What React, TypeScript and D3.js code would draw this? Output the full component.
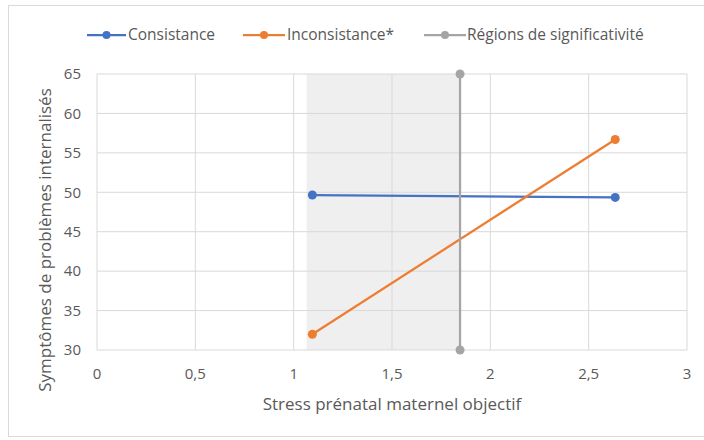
import React from "react";
import * as d3 from "d3";

const xTicks = [0, 0.5, 1, 1.5, 2, 2.5, 3];
const yTicks = [30, 35, 40, 45, 50, 55, 60, 65];
const consistanceX = [1.095, 2.635];
const consistanceY = [49.65, 49.35];
const inconsistanceX = [1.095, 2.635];
const inconsistanceY = [32.0, 56.7];
const regionX = [1.846, 1.846];
const regionY = [65, 30];
const shadeRange = [1.066, 1.846];

const seriesNames = ["Consistance", "Inconsistance*", "Régions de significativité"];
const seriesColors = ["#4472c4", "#ed7d31", "#a5a5a5"];

export default function App() {
  const W = 704, H = 440;
  const x = d3.scaleLinear().domain([0, 3]).range([97, 687]);
  const y = d3.scaleLinear().domain([30, 65]).range([350, 74]);
  const line = d3.line<[number, number]>().x(d => x(d[0])).y(d => y(d[1]));
  const font = "'Open Sans', sans-serif";
  const series = [
    { xs: consistanceX, ys: consistanceY },
    { xs: inconsistanceX, ys: inconsistanceY },
    { xs: regionX, ys: regionY },
  ];
  const legend = [
    { x1: 87, x2: 126, tx: 128 },
    { x1: 243, x2: 285, tx: 287 },
    { x1: 424, x2: 466, tx: 467 },
  ];
  return (
    <svg width={W} height={H} style={{ position: "absolute", left: 0, top: 0 }} fontFamily={font}>
      <rect x={0} y={0} width={W} height={H} fill="#fff" />
      <rect x={8.5} y={5.5} width={700} height={431} fill="#fff" stroke="#d9d9d9" />
      <rect x={x(shadeRange[0])} y={y(65)} width={x(shadeRange[1]) - x(shadeRange[0])} height={y(30) - y(65)} fill="#efefef" />
      {yTicks.map(t => (
        <line key={"gy" + t} x1={x(0)} x2={x(3)} y1={y(t)} y2={y(t)} stroke="#d9d9d9" strokeWidth={1} />
      ))}
      {xTicks.map(t => (
        <line key={"gx" + t} x1={x(t)} x2={x(t)} y1={y(30)} y2={y(65)} stroke="#d9d9d9" strokeWidth={1} />
      ))}
      {yTicks.map(t => (
        <text key={"ty" + t} x={x(0) - 16} y={y(t)} dy="0.35em" textAnchor="end" fontSize={15} fill="#595959">{t}</text>
      ))}
      {xTicks.map(t => (
        <text key={"tx" + t} x={x(t)} y={374} dy="0.35em" textAnchor="middle" fontSize={15} fill="#595959">{String(t).replace(".", ",")}</text>
      ))}
      <text x={392} y={404} dy="0.35em" textAnchor="middle" fontSize={17} fill="#595959">Stress prénatal maternel objectif</text>
      <text transform={`translate(45,240) rotate(-90)`} textAnchor="middle" dy="0.35em" fontSize={17} fill="#595959">Symptômes de problèmes internalisés</text>
      {series.map((s, i) => {
        const pts = s.xs.map((v, j) => [v, s.ys[j]] as [number, number]);
        return (
          <g key={"s" + i}>
            <path d={line(pts) || ""} fill="none" stroke={seriesColors[i]} strokeWidth={2.25} />
            {pts.map((p, j) => (
              <circle key={j} cx={x(p[0])} cy={y(p[1])} r={4.5} fill={seriesColors[i]} />
            ))}
          </g>
        );
      })}
      {legend.map((l, i) => (
        <g key={"l" + i}>
          <line x1={l.x1} x2={l.x2} y1={35} y2={35} stroke={seriesColors[i]} strokeWidth={2.25} />
          <circle cx={(l.x1 + l.x2) / 2} cy={35} r={4} fill={seriesColors[i]} />
          <text x={l.tx} y={35} dy="0.35em" fontSize={15.5} fill="#595959">{seriesNames[i]}</text>
        </g>
      ))}
    </svg>
  );
}
